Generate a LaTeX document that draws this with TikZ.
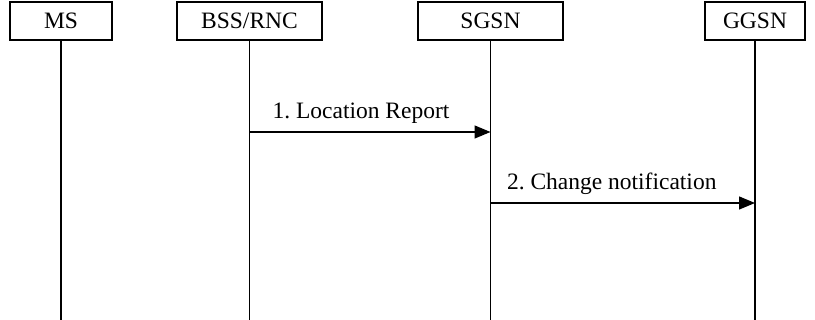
\documentclass[tikz,border=0pt]{standalone}
\usepackage{fontspec}
\setmainfont{Liberation Serif}
\usepackage{tikz}
\usetikzlibrary{positioning,arrows.meta}
\frenchspacing

\begin{document}
\begin{tikzpicture}[x=1pt, y=-1pt,
  entity/.style={draw, line width=1.4pt, minimum height=38pt, minimum width=#1,
    inner sep=0pt, font=\fontsize{23.5}{27}\selectfont},
  lifeline/.style={line width=1.4pt},
  msg/.style={line width=1.4pt, -{Triangle[length=16pt, width=13pt]}},
  msglabel/.style={font=\fontsize{23.5}{27}\selectfont, above=4pt}
]
  \useasboundingbox (0,0) rectangle (815,320);

  % Teilnehmer
  \node[entity=102pt] (ms)   at (61,21)    {MS};
  \node[entity=145pt] (bss)  at (249.5,21) {BSS/RNC};
  \node[entity=145pt] (sgsn) at (490.5,21) {SGSN};
  \node[entity=100pt] (ggsn) at (755,21)   {GGSN};

  % Lebenslinien
  \coordinate (bottom) at (0,320);
  \foreach \n in {ms,bss,sgsn,ggsn}
    \draw[lifeline] (\n.south) -- (\n.south |- bottom);

  % Nachrichten
  \coordinate (y1) at (0,132);
  \coordinate (y2) at (0,203);
  \draw[msg] (bss |- y1) -- (sgsn |- y1) node[msglabel, midway, xshift=-9pt] {1. Location Report};
  \draw[msg] (sgsn |- y2) -- (ggsn |- y2) node[msglabel, midway, xshift=-11pt] {2. Change notification};
\end{tikzpicture}
\end{document}
